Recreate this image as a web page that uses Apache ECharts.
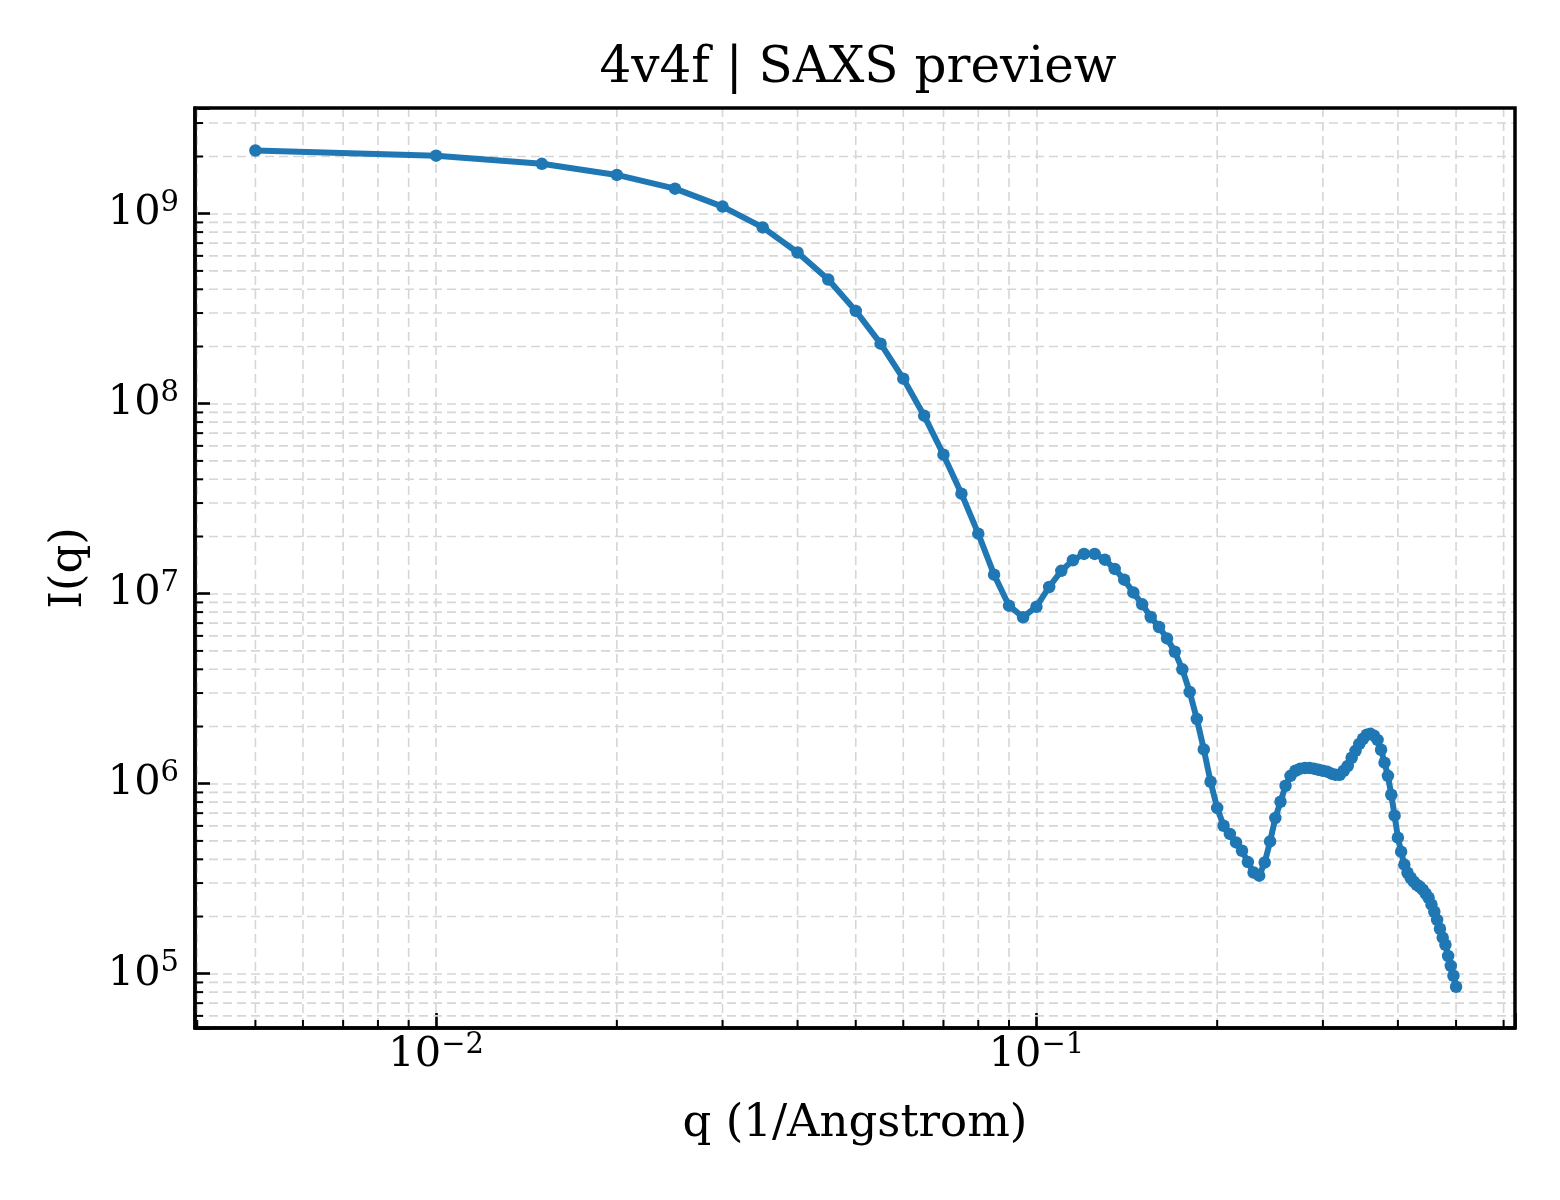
<!DOCTYPE html>
<html>
<head>
<meta charset="utf-8">
<style>
  html, body { margin: 0; padding: 0; background: #ffffff; }
  #chart { width: 1560px; height: 1200px; }
</style>
</head>
<body>
<div id="chart"></div>
<script src="https://cdn.jsdelivr.net/npm/echarts@6/dist/echarts.min.js"></script>
<script>
// scattering vector q (1/Angstrom)
var qValues = [
  0.005, 0.010, 0.015, 0.020, 0.025, 0.030, 0.035, 0.040, 0.045, 0.050,
  0.055, 0.060, 0.065, 0.070, 0.075, 0.080, 0.085, 0.090, 0.095, 0.100,
  0.105, 0.110, 0.115, 0.120, 0.125, 0.130, 0.135, 0.140, 0.145, 0.150,
  0.155, 0.160, 0.165, 0.170, 0.175, 0.180, 0.185, 0.190, 0.195, 0.200,
  0.205, 0.210, 0.215, 0.220, 0.225, 0.230, 0.235, 0.240, 0.245, 0.250,
  0.255, 0.260, 0.265, 0.270, 0.275, 0.280, 0.285, 0.290, 0.295, 0.300,
  0.305, 0.310, 0.315, 0.320, 0.325, 0.330, 0.335, 0.340, 0.345, 0.350,
  0.355, 0.360, 0.365, 0.370, 0.375, 0.380, 0.385, 0.390, 0.395, 0.400,
  0.405, 0.410, 0.415, 0.420, 0.425, 0.430, 0.435, 0.440, 0.445, 0.450,
  0.455, 0.460, 0.465, 0.470, 0.475, 0.480, 0.485, 0.490, 0.495, 0.500
];

// I(q)
var intensity = [
  2.15e9, 2.02e9, 1.83e9, 1.60e9, 1.355e9, 1.09e9, 8.47e8, 6.25e8, 4.50e8, 3.08e8,
  2.07e8, 1.355e8, 8.65e7, 5.39e7, 3.36e7, 2.07e7, 1.26e7, 8.65e6, 7.52e6, 8.54e6,
  1.085e7, 1.32e7, 1.50e7, 1.62e7, 1.62e7, 1.51e7, 1.35e7, 1.185e7, 1.016e7, 8.79e6,
  7.54e6, 6.68e6, 5.82e6, 4.95e6, 4.0e6, 3.04e6, 2.19e6, 1.515e6, 1.024e6, 7.45e5,
  6.01e5, 5.44e5, 4.91e5, 4.44e5, 3.87e5, 3.41e5, 3.28e5, 3.85e5, 4.97e5, 6.60e5,
  8.04e5, 9.76e5, 1.10e6, 1.17e6, 1.20e6, 1.21e6, 1.21e6, 1.20e6, 1.185e6, 1.17e6,
  1.157e6, 1.13e6, 1.115e6, 1.115e6, 1.17e6, 1.24e6, 1.37e6, 1.49e6, 1.62e6, 1.725e6,
  1.81e6, 1.83e6, 1.79e6, 1.70e6, 1.51e6, 1.29e6, 1.10e6, 8.75e5, 6.79e5, 5.20e5,
  4.39e5, 3.75e5, 3.40e5, 3.20e5, 3.05e5, 2.94e5, 2.87e5, 2.77e5, 2.64e5, 2.51e5,
  2.31e5, 2.12e5, 1.92e5, 1.725e5, 1.55e5, 1.42e5, 1.24e5, 1.10e5, 9.76e4, 8.54e4
];

// minor tick positions (log axes)
var minorQ = [
  0.004, 0.005, 0.006, 0.007, 0.008, 0.009,
  0.02, 0.03, 0.04, 0.05, 0.06, 0.07, 0.08, 0.09,
  0.2, 0.3, 0.4, 0.5, 0.6
];
var minorI = [
  6e4, 7e4, 8e4, 9e4,
  2e5, 3e5, 4e5, 5e5, 6e5, 7e5, 8e5, 9e5,
  2e6, 3e6, 4e6, 5e6, 6e6, 7e6, 8e6, 9e6,
  2e7, 3e7, 4e7, 5e7, 6e7, 7e7, 8e7, 9e7,
  2e8, 3e8, 4e8, 5e8, 6e8, 7e8, 8e8, 9e8,
  2e9, 3e9
];

var Q_MIN = 0.003966, Q_MAX = 0.6268;
var I_MIN = 5.18e4, I_MAX = 3.6e9;

var FONT = 'DejaVu Serif';
var GRID_COLOR = '#d6d6d6';
var LINE_COLOR = '#1f77b4';

function powLabel(v) {
    var e = Math.log10(v);
    var r = Math.round(e);
    if (Math.abs(e - r) > 1e-6) return '';
    return '{b|10}{s|' + (r < 0 ? '\u2212' + (-r) : r) + '}';
}

var labelRich = {
    b: { fontFamily: FONT, fontSize: 41.5, lineHeight: 42, color: '#000', verticalAlign: 'middle' },
    s: { fontFamily: FONT, fontSize: 29, lineHeight: 29, color: '#000', verticalAlign: 'middle', padding: [0, 0, 20, 0] }
};

function renderMinorQ(params, api) {
    var cs = params.coordSys;
    var p = api.coord([api.value(0), api.value(1)]);
    var bottom = cs.y + cs.height;
    return {
        type: 'group',
        children: [
            { type: 'line', shape: { x1: p[0], y1: cs.y, x2: p[0], y2: bottom },
              style: { stroke: GRID_COLOR, lineWidth: 1.6, lineDash: [9, 5] } },
            { type: 'line', shape: { x1: p[0], y1: bottom, x2: p[0], y2: bottom - 8 },
              style: { stroke: '#000', lineWidth: 2 } }
        ]
    };
}

function renderMinorI(params, api) {
    var cs = params.coordSys;
    var p = api.coord([api.value(0), api.value(1)]);
    return {
        type: 'group',
        children: [
            { type: 'line', shape: { x1: cs.x, y1: p[1], x2: cs.x + cs.width, y2: p[1] },
              style: { stroke: GRID_COLOR, lineWidth: 1.6, lineDash: [9, 5] } },
            { type: 'line', shape: { x1: cs.x, y1: p[1], x2: cs.x + 8, y2: p[1] },
              style: { stroke: '#000', lineWidth: 2 } }
        ]
    };
}

var chart = echarts.init(document.getElementById('chart'), null, { renderer: 'canvas' });

var option = {
    animation: false,
    backgroundColor: '#ffffff',
    title: {
        text: '4v4f | SAXS preview',
        left: 853,
        top: 39,
        textAlign: 'center',
        textStyle: { fontFamily: FONT, fontSize: 50, fontWeight: 'normal', color: '#000' }
    },
    grid: {
        left: 195,
        top: 108,
        width: 1320,
        height: 920,
        containLabel: false,
        outerBoundsMode: 'none',
        show: true,
        borderColor: '#000',
        borderWidth: 3.5,
        backgroundColor: 'transparent',
        z: 5
    },
    xAxis: {
        type: 'log',
        logBase: 10,
        min: Q_MIN,
        max: Q_MAX,
        name: 'q (1/Angstrom)',
        nameLocation: 'middle',
        nameGap: 74,
        nameTextStyle: { fontFamily: FONT, fontSize: 45, color: '#000' },
        axisLine: { show: true, lineStyle: { color: '#000', width: 3.5 } },
        axisTick: { show: true, inside: true, length: 15, lineStyle: { color: '#000', width: 2.6 } },
        minorTick: { show: false },
        axisLabel: { margin: 6, formatter: powLabel, rich: labelRich },
        splitLine: { show: true, lineStyle: { color: GRID_COLOR, width: 1.6, type: [9, 5] } }
    },
    yAxis: {
        type: 'log',
        logBase: 10,
        min: I_MIN,
        max: I_MAX,
        name: 'I(q)',
        nameLocation: 'middle',
        nameGap: 103,
        nameTextStyle: { fontFamily: FONT, fontSize: 45, color: '#000' },
        axisLine: { show: true, lineStyle: { color: '#000', width: 3.5 } },
        axisTick: { show: true, inside: true, length: 15, lineStyle: { color: '#000', width: 2.6 } },
        minorTick: { show: false },
        axisLabel: { margin: 16, formatter: powLabel, rich: labelRich },
        splitLine: { show: true, lineStyle: { color: GRID_COLOR, width: 1.6, type: [9, 5] } }
    },
    series: [
        {
            type: 'custom',
            name: 'minorQ',
            silent: true,
            z: 1,
            renderItem: renderMinorQ,
            encode: { x: 0, y: 1 },
            data: minorQ.map(function (q) { return [q, I_MIN]; })
        },
        {
            type: 'custom',
            name: 'minorI',
            silent: true,
            z: 1,
            renderItem: renderMinorI,
            encode: { x: 0, y: 1 },
            data: minorI.map(function (v) { return [Q_MIN, v]; })
        },
        {
            type: 'line',
            name: 'SAXS',
            z: 3,
            data: qValues.map(function (q, i) { return [q, intensity[i]]; }),
            symbol: 'circle',
            symbolSize: 12.5,
            showSymbol: true,
            showAllSymbol: true,
            lineStyle: { color: LINE_COLOR, width: 6 },
            itemStyle: { color: LINE_COLOR }
        }
    ]
};

chart.setOption(option);
</script>
</body>
</html>
